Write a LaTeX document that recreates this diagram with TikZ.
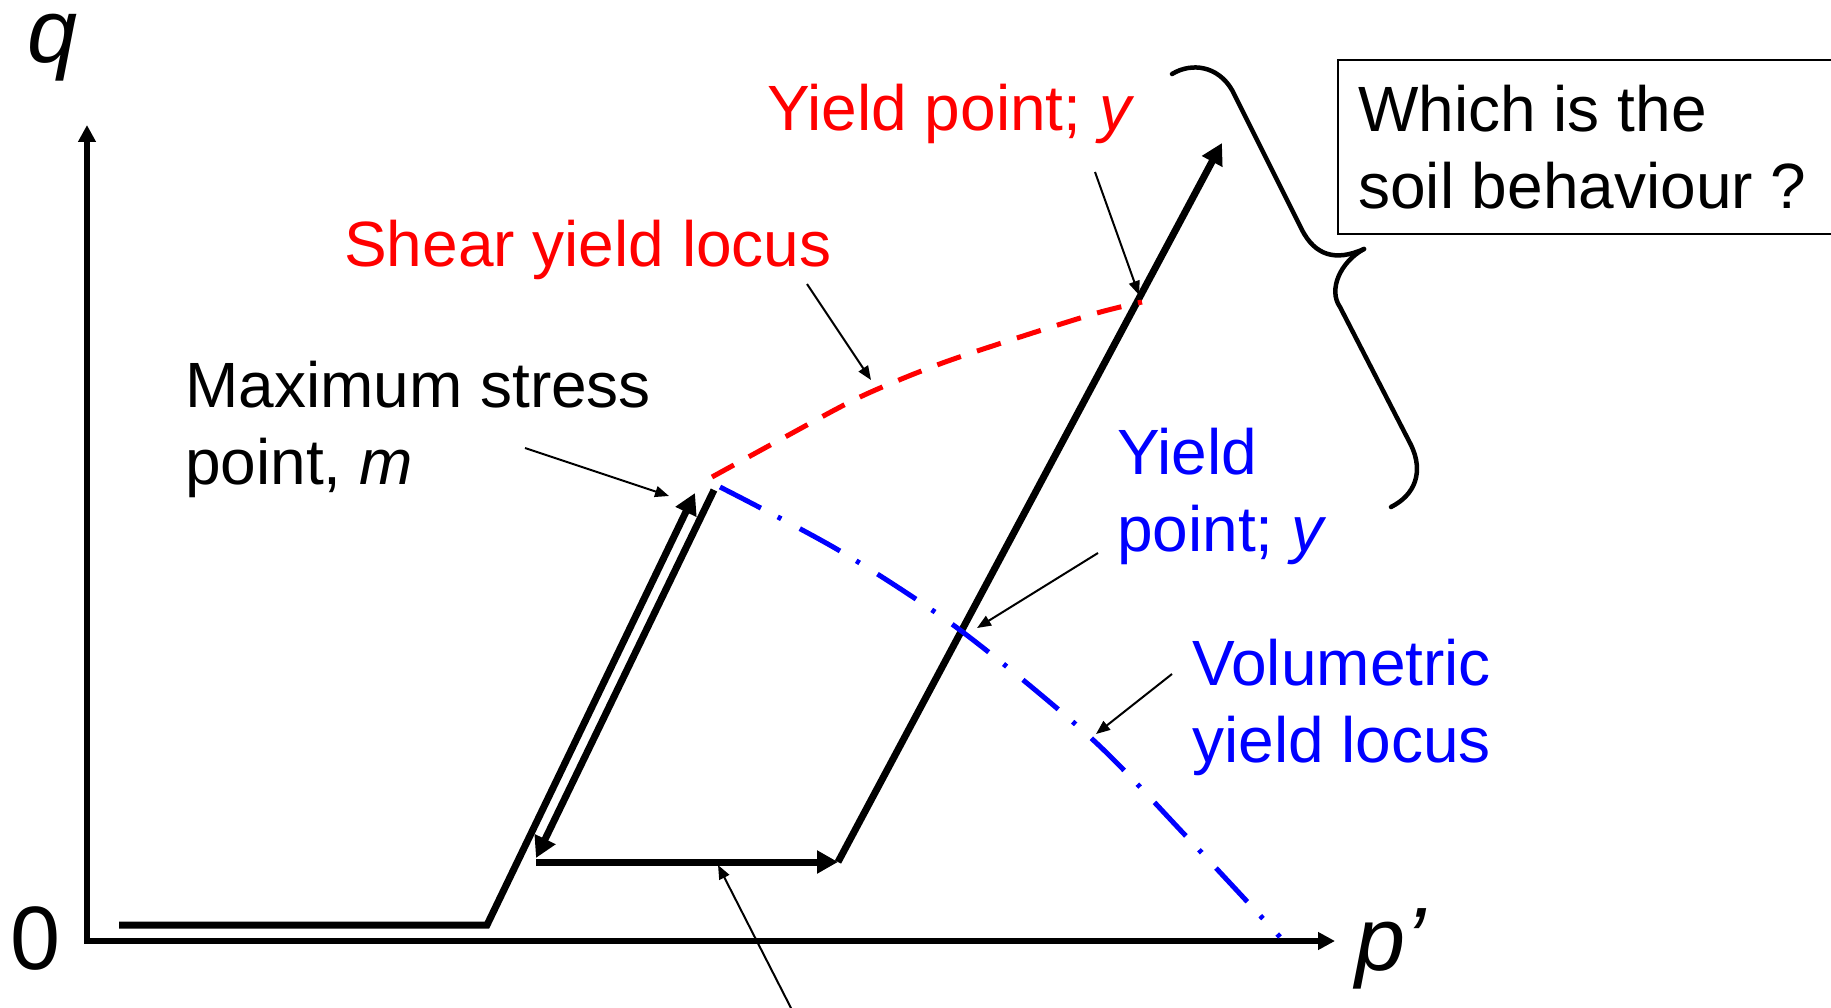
\documentclass[tikz,border=0pt]{standalone}
\usepackage{fontspec}
\setmainfont{Liberation Sans}
\usetikzlibrary{arrows.meta}
\definecolor{pRed}{RGB}{255,0,0}
\definecolor{pBlue}{RGB}{0,0,255}
\begin{document}
\begin{tikzpicture}[x=1pt,y=-1pt,
  lbl/.style={inner sep=0pt, anchor=base west, font=\fontsize{64}{77}\selectfont},
  axlbl/.style={inner sep=0pt, anchor=base west, font=\fontsize{90}{100}\selectfont},
  axis/.style={line width=5.5pt, {Triangle[length=17pt,width=17pt]}-{Triangle[length=17pt,width=17pt]}},
  stresspath/.style={line width=7pt},
  bigtip/.style={-{Triangle[length=21pt,width=22pt]}},
  note/.style={line width=2pt, -{Triangle[length=14pt,width=11pt]}},
  shearloc/.style={pRed, line width=5pt, dash pattern=on 25pt off 17pt},
  volloc/.style={pBlue, line width=5pt, dash pattern=on 46pt off 19pt on 4pt off 21pt},
  bracket/.style={line width=4.5pt, line cap=round}
]
\useasboundingbox (0,0) rectangle (1831,1008);

% axes
\coordinate (qtip) at (87,125);
\coordinate (origin) at (87,941);
\coordinate (ptip) at (1335,941);
\draw[axis] (qtip) -- (origin) -- (ptip);
\node[axlbl] (qlbl) at (27,63) {\textit{q}};
\node[axlbl] (zero) at (10,969) {0};
\node[axlbl] (plbl) at (1355,970) {\textit{p’}};

% stress path
\coordinate (s0) at (119,925);
\coordinate (s1) at (487,925);
\coordinate (m1) at (695,493);
\coordinate (m2) at (714,490);
\coordinate (u1) at (536,858);
\coordinate (u2) at (536,862);
\coordinate (r1) at (838,862);
\coordinate (top) at (1222,143);
\draw[stresspath, bigtip] (s0) -- (s1) -- (m1);
\draw[stresspath, bigtip] (m2) -- (u1);
\draw[stresspath, bigtip] (u2) -- (r1);
\draw[stresspath, bigtip] (r1) -- (top);

% yield loci
\draw[shearloc] plot[smooth] coordinates {(712,477) (785,437) (860,397) (937,365) (1017,338) (1097,313) (1142,302)};
\draw[volloc] plot[smooth] coordinates {(720,487) (840,551) (960,630) (1091,738) (1185,835) (1280,937)};

% labels
\node[lbl] (maxlbl) at (185,407) {\begin{tabular}[t]{@{}l@{}}Maximum stress\\point, \textit{m}\end{tabular}};
\node[lbl, text=pRed] (shearlbl) at (344,267) {Shear yield locus};
\node[lbl, text=pRed] (ylbl) at (767,131) {Yield point; \textit{y}};
\node[lbl, text=pBlue] (bylbl) at (1117,474) {\begin{tabular}[t]{@{}l@{}}Yield\\point; \textit{y}\end{tabular}};
\node[lbl, text=pBlue] (vollbl) at (1192,685) {\begin{tabular}[t]{@{}l@{}}Volumetric\\yield locus\end{tabular}};
\node[draw, line width=2pt, inner sep=0pt, minimum width=496pt, minimum height=174pt, anchor=north west] (qbox) at (1337,59) {};
\node[lbl] (qtext) at (1358,132) {\begin{tabular}[t]{@{}l@{}}Which is the\\soil behaviour ?\end{tabular}};

% annotation arrows
\coordinate (mA) at (525,448);  \coordinate (mB) at (669,496);
\coordinate (sA) at (807,284);  \coordinate (sB) at (871,380);
\coordinate (yA) at (1095,172); \coordinate (yB) at (1139,295);
\coordinate (bA) at (1098,553); \coordinate (bB) at (977,628);
\coordinate (vA) at (1172,674); \coordinate (vB) at (1096,734);
\coordinate (hA) at (792,1010); \coordinate (hB) at (718,865);
\draw[note] (mA) -- (mB);
\draw[note] (sA) -- (sB);
\draw[note] (yA) -- (yB);
\draw[note] (bA) -- (bB);
\draw[note] (vA) -- (vB);
\draw[note] (hA) -- (hB);

% brace
\draw[bracket] (1172,74) .. controls (1192,62) and (1218,66) .. (1232,90) -- (1302,230) .. controls (1315,255) and (1335,262) .. (1364,249);
\draw[bracket] (1364,249) .. controls (1340,262) and (1328,290) .. (1340,307) -- (1411,445) .. controls (1424,472) and (1415,495) .. (1391,507);
\end{tikzpicture}
\end{document}
